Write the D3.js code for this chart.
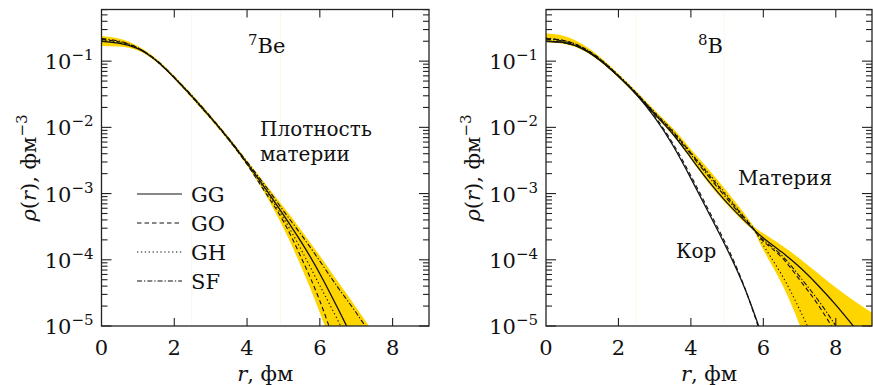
<html>
<head>
<meta charset="utf-8">
<script src="https://d3js.org/d3.v7.min.js"></script>
<style>
  body { margin: 0; background: #fff; }
</style>
</head>
<body>
<script>
// ---- data (values are log10 of rho, fm^-3) ----
var rLeft = [0, 0.5, 1, 1.5, 2, 2.5, 3, 3.5, 4, 4.5, 5, 5.5, 6, 6.5, 7, 7.5];
var beGG = [-0.70, -0.73, -0.81, -0.99, -1.25, -1.54, -1.85, -2.18, -2.54, -2.92, -3.32, -3.74, -4.21, -4.74, -5.30, -5.90];
var beGO = [-0.67, -0.71, -0.80, -0.99, -1.25, -1.55, -1.86, -2.19, -2.56, -2.98, -3.42, -3.98, -4.62, -5.40, -6.20, -7.00];
var beGH = [-0.69, -0.72, -0.81, -0.99, -1.25, -1.55, -1.86, -2.19, -2.55, -2.95, -3.37, -3.86, -4.39, -4.92, -5.50, -6.10];
var beSF = [-0.66, -0.70, -0.80, -0.98, -1.24, -1.53, -1.84, -2.17, -2.52, -2.88, -3.26, -3.63, -4.02, -4.42, -4.80, -5.22];
var beLo = [-0.77, -0.78, -0.84, -1.01, -1.27, -1.57, -1.88, -2.21, -2.58, -3.01, -3.52, -4.12, -4.80, -5.55, -6.30, -7.10];
var beHi = [-0.62, -0.66, -0.77, -0.96, -1.22, -1.51, -1.82, -2.15, -2.50, -2.85, -3.20, -3.56, -3.94, -4.33, -4.72, -5.12];

var rRight = [0, 0.5, 1, 1.5, 2, 2.5, 3, 3.5, 4, 4.5, 5, 5.5, 5.75, 6, 6.5, 7, 7.5, 8, 8.5, 9];
var bGG = [-0.70, -0.72, -0.81, -0.99, -1.23, -1.50, -1.80, -2.10, -2.46, -2.82, -3.14, -3.42, -3.55, -3.67, -3.88, -4.11, -4.38, -4.68, -5.01, -5.35];
var bGO = [-0.66, -0.69, -0.79, -0.97, -1.22, -1.49, -1.78, -2.06, -2.39, -2.72, -3.05, -3.38, -3.55, -3.72, -3.96, -4.30, -4.67, -5.10, -5.50, -5.90];
var bGH = [-0.65, -0.69, -0.79, -0.97, -1.21, -1.48, -1.77, -2.05, -2.38, -2.70, -3.03, -3.37, -3.54, -3.78, -4.22, -4.75, -5.35, -6.00, -6.60, -7.20];
var bSF = [-0.67, -0.70, -0.80, -0.98, -1.22, -1.49, -1.79, -2.08, -2.41, -2.75, -3.08, -3.40, -3.55, -3.70, -3.93, -4.25, -4.60, -5.00, -5.45, -5.90];
var bLo = [-0.72, -0.74, -0.83, -1.01, -1.25, -1.52, -1.82, -2.12, -2.48, -2.85, -3.17, -3.45, -3.58, -3.85, -4.35, -4.98, -5.70, -6.40, -7.00, -7.60];
var bHi = [-0.58, -0.62, -0.74, -0.94, -1.19, -1.46, -1.74, -2.01, -2.33, -2.64, -2.97, -3.32, -3.50, -3.60, -3.78, -3.98, -4.20, -4.42, -4.62, -4.80];

var rCore = [0, 0.5, 1, 1.5, 2, 2.5, 3, 3.5, 4, 4.5, 5, 5.5, 6];
var coreGG = [-0.70, -0.72, -0.81, -0.99, -1.23, -1.51, -1.85, -2.27, -2.77, -3.30, -3.84, -4.45, -5.20];
var coreGO = [-0.70, -0.72, -0.81, -0.99, -1.23, -1.50, -1.83, -2.24, -2.73, -3.26, -3.80, -4.44, -5.25];

var xTicks = [0, 2, 4, 6, 8];
var yDecades = [-1, -2, -3, -4, -5];
var legendNames = ["GG", "GO", "GH", "SF"];
var dashes = ["none", "4.5,3", "1.3,2.6", "5,2,1.3,2"];

var W = 873, H = 385;
var FONT = "DejaVu Serif";
var svg = d3.select("body").append("svg").attr("width", W).attr("height", H)
  .attr("font-family", FONT);

function pts(r, v) {
  return r.map(function(d, i) { return { r: d, v: Math.pow(10, v[i]) }; });
}

function txt(sel, x, y, size) {
  return sel.append("text").attr("x", x).attr("y", y).attr("font-size", size)
    .attr("font-family", FONT).attr("fill", "#111");
}

function panel(x0, x1, id, bands, lines) {
  var top = 9.5, bot = 326;
  var x = d3.scaleLinear().domain([0, 9]).range([x0, x1]);
  var y = d3.scaleLog().domain([1e-5, Math.pow(10, -0.22)]).range([bot, top]);
  var g = svg.append("g");

  g.append("clipPath").attr("id", id).append("rect")
    .attr("x", x0).attr("y", top).attr("width", x1 - x0).attr("height", bot - top);
  var plot = g.append("g").attr("clip-path", "url(#" + id + ")");

  // faint vertical lines
  [2.48, 4.92].forEach(function(v) {
    plot.append("line").attr("x1", x(v)).attr("x2", x(v)).attr("y1", top).attr("y2", bot)
      .attr("stroke", "#fdf8e6").attr("stroke-width", 1);
  });

  var area = d3.area().curve(d3.curveNatural)
    .x(function(d) { return x(d.r); })
    .y0(function(d) { return y(d.lo); })
    .y1(function(d) { return y(d.hi); });
  bands.forEach(function(b) {
    var data = b.r.map(function(d, i) { return { r: d, lo: Math.pow(10, b.lo[i]), hi: Math.pow(10, b.hi[i]) }; });
    plot.append("path").attr("d", area(data)).attr("fill", "#ffd500");
  });

  var line = d3.line().curve(d3.curveNatural)
    .x(function(d) { return x(d.r); })
    .y(function(d) { return y(d.v); });
  lines.forEach(function(l) {
    plot.append("path").attr("d", line(pts(l.r, l.v)))
      .attr("fill", "none").attr("stroke", "#111").attr("stroke-width", l.w || 1.1)
      .attr("stroke-dasharray", l.dash);
  });

  // frame
  g.append("rect").attr("x", x0).attr("y", top).attr("width", x1 - x0).attr("height", bot - top)
    .attr("fill", "none").attr("stroke", "#222").attr("stroke-width", 1.3);

  // x ticks (inward, bottom and top)
  xTicks.forEach(function(t) {
    if (t > 0) {
      g.append("line").attr("x1", x(t)).attr("x2", x(t)).attr("y1", bot).attr("y2", bot - 8)
        .attr("stroke", "#222").attr("stroke-width", 1.1);
      g.append("line").attr("x1", x(t)).attr("x2", x(t)).attr("y1", top).attr("y2", top + 8)
        .attr("stroke", "#222").attr("stroke-width", 1.1);
    }
    txt(g, x(t), 355, 21).attr("text-anchor", "middle").text(t);
  });

  // y ticks, log minor ticks, both sides
  for (var e = -5; e <= -1; e++) {
    for (var m = 1; m <= 9; m++) {
      var val = m * Math.pow(10, e);
      if (val > y.domain()[1] * 0.999) continue;
      var len = (m === 1) ? 10 : 6;
      var yy = y(val);
      g.append("line").attr("x1", x0).attr("x2", x0 + len).attr("y1", yy).attr("y2", yy)
        .attr("stroke", "#222").attr("stroke-width", 1.1);
      g.append("line").attr("x1", x1).attr("x2", x1 - len).attr("y1", yy).attr("y2", yy)
        .attr("stroke", "#222").attr("stroke-width", 1.1);
    }
  }
  yDecades.forEach(function(d) {
    var t = txt(g, x0 - 8, y(Math.pow(10, d)) + 8, 21).attr("text-anchor", "end");
    t.append("tspan").text("10");
    t.append("tspan").attr("dy", -9).attr("font-size", 15).text("\u2212" + (-d));
  });

  // axis labels
  var xl = txt(g, (x0 + x1) / 2, 381, 21).attr("text-anchor", "middle");
  xl.append("tspan").attr("font-style", "italic").text("r");
  xl.append("tspan").text(", фм");

  var yl = g.append("text").attr("transform", "translate(" + (x0 - 66) + "," + 168 + ") rotate(-90)")
    .attr("text-anchor", "middle").attr("font-size", 21).attr("font-family", FONT).attr("fill", "#111");
  yl.append("tspan").attr("font-style", "italic").text("ρ");
  yl.append("tspan").text("(");
  yl.append("tspan").attr("font-style", "italic").text("r");
  yl.append("tspan").text("), фм");
  yl.append("tspan").attr("dy", -9).attr("font-size", 15).text("\u22123");

  return { g: g, x: x, y: y };
}

// ---- left panel: 7Be ----
var L = panel(101.5, 429, "clipL",
  [{ r: rLeft, lo: beLo, hi: beHi }],
  [{ r: rLeft, v: beGO, dash: dashes[1] },
   { r: rLeft, v: beGH, dash: dashes[2] },
   { r: rLeft, v: beSF, dash: dashes[3] },
   { r: rLeft, v: beGG, dash: dashes[0], w: 1.3 }]);

var lt = txt(L.g, 248, 53, 21);
lt.append("tspan").attr("font-size", 15).attr("dy", -8).text("7");
lt.append("tspan").attr("dy", 8).text("Be");
txt(L.g, 260, 136, 20).text("Плотность");
txt(L.g, 260, 161, 20).text("материи");

var legY = [194, 223, 252, 281];
legendNames.forEach(function(n, i) {
  L.g.append("line").attr("x1", 137).attr("x2", 182).attr("y1", legY[i]).attr("y2", legY[i])
    .attr("stroke", "#111").attr("stroke-width", 1.2).attr("stroke-dasharray", dashes[i]);
  txt(L.g, 191, legY[i] + 8, 21).text(n);
});

// ---- right panel: 8B ----
var R = panel(546, 872, "clipR",
  [{ r: rRight, lo: bLo, hi: bHi }],
  [{ r: rRight, v: bGO, dash: dashes[1] },
   { r: rRight, v: bGH, dash: dashes[2] },
   { r: rRight, v: bSF, dash: dashes[3] },
   { r: rRight, v: bGG, dash: dashes[0], w: 1.3 },
   { r: rCore, v: coreGO, dash: dashes[1] },
   { r: rCore, v: coreGG, dash: dashes[0], w: 1.3 }]);

var rt = txt(R.g, 698, 53, 21);
rt.append("tspan").attr("font-size", 15).attr("dy", -8).text("8");
rt.append("tspan").attr("dy", 8).text("B");
txt(R.g, 738, 185, 20).text("Материя");
txt(R.g, 676, 258, 20).text("Кор");
</script>
</body>
</html>
